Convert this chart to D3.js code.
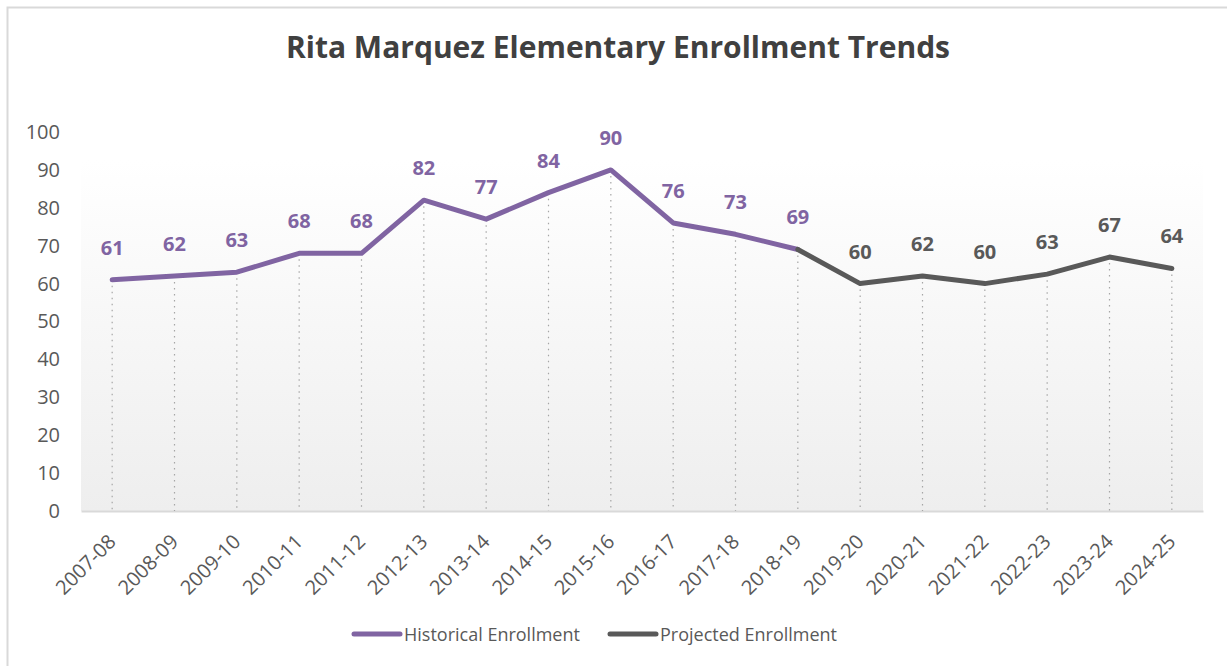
<!DOCTYPE html>
<html><head><meta charset="utf-8">
<script src="https://cdn.jsdelivr.net/npm/d3@7"></script>
<style>body{margin:0;background:#fff;}svg{display:block;}</style>
</head><body>
<svg id="c" width="1227" height="666"></svg>
<script>
const categories = ["2007-08","2008-09","2009-10","2010-11","2011-12","2012-13","2013-14","2014-15","2015-16","2016-17","2017-18","2018-19","2019-20","2020-21","2021-22","2022-23","2023-24","2024-25"];
const historical = [61,62,63,68,68,82,77,84,90,76,73,69,null,null,null,null,null,null];
const projected = [null,null,null,null,null,null,null,null,null,null,null,69,60,62,60,62.5,67,64];
const projectedLabels = [null,null,null,null,null,null,null,null,null,null,null,null,"60","62","60","63","67","64"];
const yTicks = [0,10,20,30,40,50,60,70,80,90,100];
const seriesNames = ["Historical Enrollment","Projected Enrollment"];
const colors = ["#8064a2","#595959"];

const svg = d3.select("#c");
const font = "'Open Sans', sans-serif";
const m = {left:81, right:1203, top:132, bottom:511};

svg.append("rect").attr("x",7.5).attr("y",7.5).attr("width",1240).attr("height",700)
  .attr("fill","#fff").attr("stroke","#d9d9d9").attr("stroke-width",2);

const defs = svg.append("defs");
const g = defs.append("linearGradient").attr("id","pg").attr("x1",0).attr("y1",0).attr("x2",0).attr("y2",1);
g.append("stop").attr("offset","0%").attr("stop-color","#ffffff");
g.append("stop").attr("offset","100%").attr("stop-color","#eeeeee");

const x = d3.scaleBand().domain(categories).range([m.left,m.right]);
const y = d3.scaleLinear().domain([0,100]).range([m.bottom,m.top]);
const cx = d => x(d) + x.bandwidth()/2;

svg.append("rect").attr("x",m.left).attr("y",y(90)-10).attr("width",m.right-m.left).attr("height",m.bottom-y(90)+10).attr("fill","url(#pg)");

// y axis labels
const ya = svg.append("g").attr("transform",`translate(${m.left-21},0)`)
  .call(d3.axisLeft(y).tickValues(yTicks).tickSize(0).tickPadding(0));
ya.select(".domain").remove();
ya.selectAll("text").attr("font-family",font).attr("font-size",20).attr("fill","#595959");

// x axis
const xa = svg.append("g").attr("transform",`translate(0,${m.bottom})`)
  .call(d3.axisBottom(x).tickSize(0).tickPadding(0));
xa.select(".domain").attr("stroke","#d9d9d9").attr("stroke-width",2);
xa.selectAll("text").attr("font-family",font).attr("font-size",20).attr("fill","#595959")
  .attr("text-anchor","end").attr("dy",0)
  .attr("transform","translate(5,32) rotate(-45)");

// drop lines
const vals = categories.map((c,i)=> historical[i]!=null ? historical[i] : projected[i]);
svg.append("g").selectAll("line").data(categories).join("line")
  .attr("x1",d=>cx(d)).attr("x2",d=>cx(d))
  .attr("y1",(d,i)=>y(vals[i])).attr("y2",m.bottom)
  .attr("stroke","#a6a6a6").attr("stroke-width",1.2).attr("stroke-dasharray","1.5,4.5");

const line = d3.line().defined(d=>d.v!=null).x(d=>cx(d.c)).y(d=>y(d.v));
[historical, projected].forEach((s,k)=>{
  svg.append("path").datum(categories.map((c,i)=>({c,v:s[i]})))
    .attr("d",line).attr("fill","none").attr("stroke",colors[k]).attr("stroke-width",5)
    .attr("stroke-linejoin","round").attr("stroke-linecap","round");
});

// data labels
const lab = svg.append("g").attr("font-family",font).attr("font-size",20).attr("font-weight",700).attr("text-anchor","middle");
categories.forEach((c,i)=>{
  if(historical[i]!=null){
    lab.append("text").attr("x",cx(c)).attr("y",y(historical[i])-25).attr("fill",colors[0]).text(historical[i]);
  } else if(projectedLabels[i]!=null){
    lab.append("text").attr("x",cx(c)).attr("y",y(projected[i])-25).attr("fill",colors[1]).text(projectedLabels[i]);
  }
});

// title
svg.append("text").attr("x",618).attr("y",58).attr("text-anchor","middle")
  .attr("font-family",font).attr("font-size",30).attr("font-weight",700).attr("fill","#404040")
  .text("Rita Marquez Elementary Enrollment Trends");

// legend
const legX = [354, 610];
seriesNames.forEach((n,k)=>{
  svg.append("line").attr("x1",legX[k]).attr("x2",legX[k]+46).attr("y1",634).attr("y2",634)
    .attr("stroke",colors[k]).attr("stroke-width",5).attr("stroke-linecap","round");
  svg.append("text").attr("x",legX[k]+50).attr("y",641).attr("font-family",font).attr("font-size",18)
    .attr("fill","#595959").text(n);
});
</script>
</body></html>
